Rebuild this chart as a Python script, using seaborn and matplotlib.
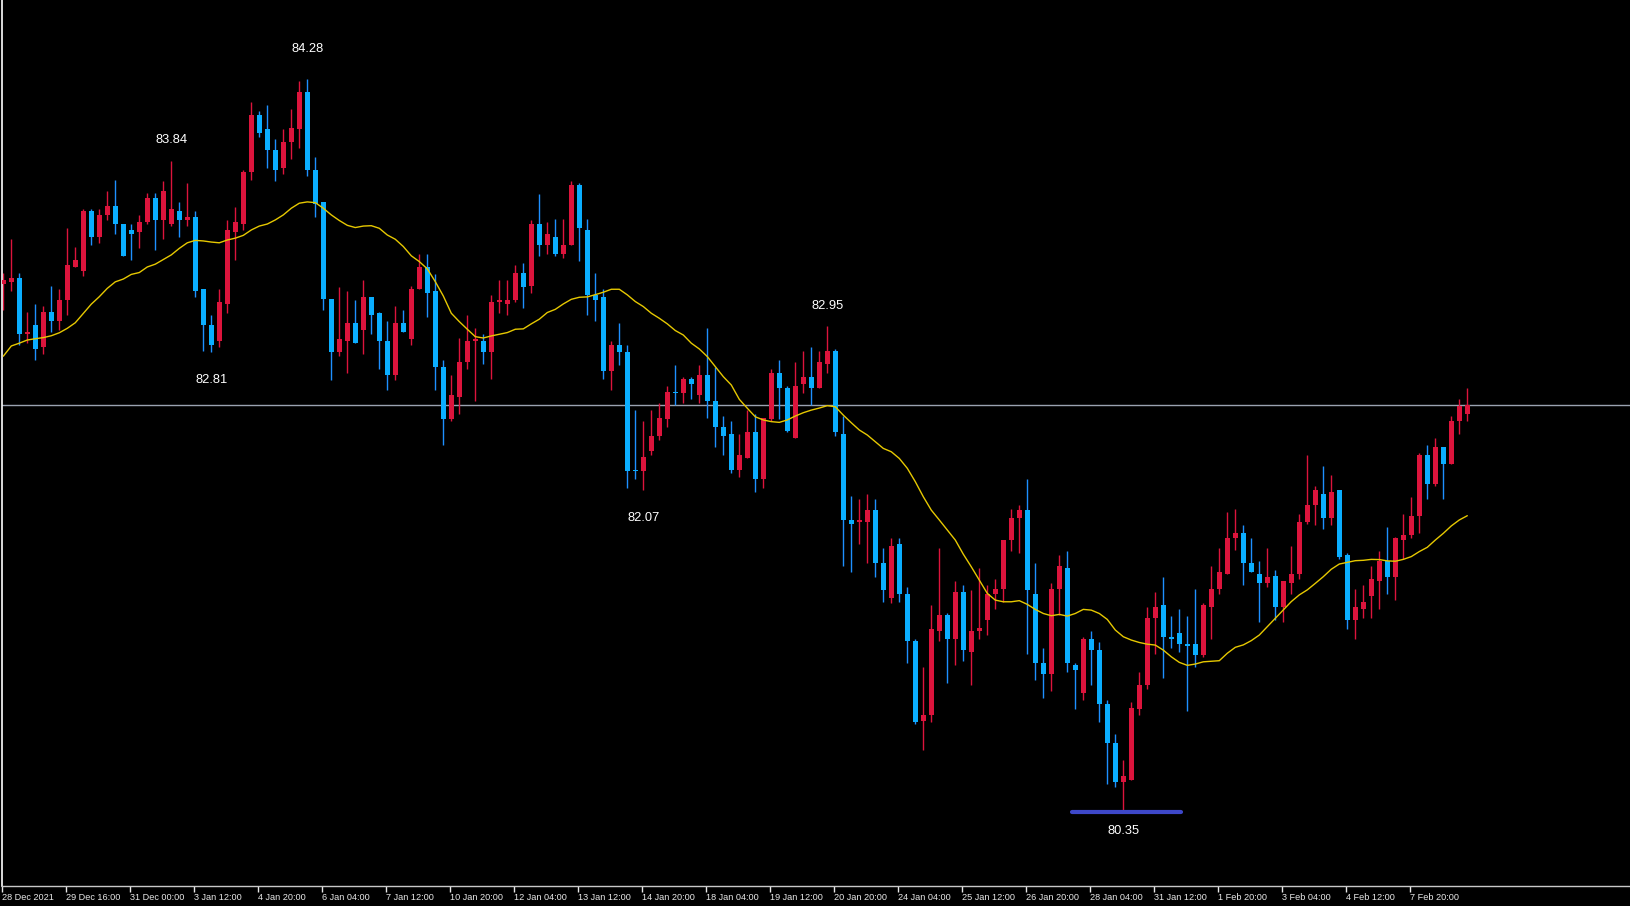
import numpy as np
import pandas as pd
import matplotlib
matplotlib.use("Agg")
import matplotlib.pyplot as plt
import seaborn as sns

# ---------------- data (AUD/JPY-like H4 candles) ----------------
opens = [83.18, 83.19, 83.21, 82.91, 82.96, 82.84, 83.03, 82.98, 83.09, 83.27,
         83.25, 83.57, 83.43, 83.55, 83.60, 83.50, 83.47, 83.46, 83.51, 83.64,
         83.52, 83.50, 83.57, 83.52, 83.54, 83.15, 82.96, 82.87, 83.07, 83.46,
         83.50, 83.78, 84.09, 84.01, 83.90, 83.80, 83.94, 84.01, 84.21, 83.79,
         83.62, 83.10, 82.81, 82.87, 82.97, 82.93, 83.11, 83.02, 82.87, 82.69,
         82.97, 82.88, 83.15, 83.27, 83.14, 82.73, 82.45, 82.57, 82.76, 82.87,
         82.87, 82.81, 83.08, 83.07, 83.09, 83.24, 83.17, 83.50, 83.39, 83.43,
         83.34, 83.39, 83.71, 83.47, 83.12, 83.11, 82.71, 82.85, 82.81, 82.18,
         82.17, 82.28, 82.36, 82.45, 82.60, 82.59, 82.67, 82.58, 82.69, 82.55,
         82.41, 82.37, 82.18, 82.24, 82.38, 82.13, 82.45, 82.70, 82.62, 82.35,
         82.64, 82.68, 82.62, 82.75, 82.82, 82.37, 81.91, 81.90, 81.90, 81.96,
         81.68, 81.49, 81.78, 81.51, 81.26, 80.83, 80.86, 81.31, 81.40, 81.27,
         81.52, 81.20, 81.31, 81.37, 81.51, 81.54, 81.80, 81.92, 81.96, 81.51,
         81.14, 81.08, 81.54, 81.65, 81.13, 80.98, 81.27, 81.21, 80.92, 80.71,
         80.50, 80.51, 80.89, 81.02, 81.38, 81.45, 81.28, 81.30, 81.24, 81.24,
         81.18, 81.44, 81.54, 81.62, 81.81, 81.84, 81.68, 81.62, 81.57, 81.61,
         81.44, 81.57, 81.62, 81.90, 81.99, 82.05, 81.92, 82.07, 81.72, 81.37,
         81.43, 81.50, 81.58, 81.69, 81.60, 81.80, 81.83, 81.93, 82.26, 82.10,
         82.30, 82.21, 82.44, 82.48]

highs = [83.24, 83.42, 83.24, 83.03, 83.07, 83.06, 83.17, 83.15, 83.48, 83.38,
         83.58, 83.58, 83.58, 83.68, 83.74, 83.50, 83.50, 83.55, 83.67, 83.67,
         83.73, 83.84, 83.62, 83.72, 83.57, 83.15, 83.01, 83.15, 83.52, 83.59,
         83.79, 84.16, 84.11, 84.14, 83.96, 84.01, 84.12, 84.27, 84.28, 83.86,
         83.62, 83.10, 83.16, 83.14, 83.09, 83.20, 83.11, 83.03, 82.98, 83.06,
         83.04, 83.17, 83.34, 83.34, 83.23, 82.77, 82.69, 82.89, 83.01, 82.94,
         82.91, 83.12, 83.20, 83.20, 83.28, 83.29, 83.52, 83.66, 83.51, 83.53,
         83.53, 83.73, 83.72, 83.53, 83.24, 83.15, 82.87, 82.97, 82.85, 82.50,
         82.44, 82.50, 82.54, 82.63, 82.74, 82.68, 82.68, 82.74, 82.94, 82.73,
         82.47, 82.44, 82.37, 82.50, 82.48, 82.46, 82.72, 82.77, 82.63, 82.76,
         82.82, 82.84, 82.82, 82.95, 82.83, 82.47, 82.04, 82.02, 82.05, 82.02,
         81.76, 81.81, 81.81, 81.55, 81.27, 81.12, 81.45, 81.76, 81.41, 81.58,
         81.56, 81.53, 81.65, 81.56, 81.59, 81.80, 81.97, 81.99, 82.13, 81.68,
         81.22, 81.57, 81.72, 81.74, 81.14, 81.28, 81.31, 81.25, 80.94, 80.76,
         80.62, 80.93, 81.09, 81.44, 81.52, 81.60, 81.39, 81.43, 81.39, 81.54,
         81.46, 81.66, 81.76, 81.95, 81.97, 81.88, 81.81, 81.69, 81.76, 81.64,
         81.58, 81.77, 81.94, 82.26, 82.09, 82.20, 82.15, 82.07, 81.73, 81.54,
         81.56, 81.66, 81.74, 81.87, 81.82, 81.94, 82.03, 82.27, 82.31, 82.35,
         82.30, 82.47, 82.56, 82.62]

lows = [83.04, 83.14, 82.85, 82.86, 82.77, 82.80, 82.92, 82.93, 83.01, 83.27,
        83.22, 83.39, 83.40, 83.52, 83.45, 83.33, 83.31, 83.37, 83.50, 83.36,
        83.42, 83.49, 83.43, 83.49, 83.11, 82.82, 82.81, 82.84, 83.02, 83.31,
        83.47, 83.74, 83.97, 83.80, 83.73, 83.77, 83.85, 83.91, 83.76, 83.54,
        83.04, 82.66, 82.79, 82.70, 82.86, 82.80, 82.91, 82.72, 82.61, 82.66,
        82.92, 82.85, 83.15, 83.00, 82.61, 82.31, 82.44, 82.48, 82.72, 82.55,
        82.75, 82.67, 83.02, 83.01, 83.08, 83.05, 83.13, 83.33, 83.34, 83.33,
        83.32, 83.39, 83.30, 83.01, 82.98, 82.67, 82.61, 82.74, 82.08, 82.13,
        82.07, 82.26, 82.34, 82.41, 82.53, 82.54, 82.56, 82.54, 82.46, 82.30,
        82.26, 82.16, 82.14, 82.24, 82.06, 82.08, 82.44, 82.45, 82.38, 82.35,
        82.59, 82.53, 82.62, 82.70, 82.36, 81.66, 81.63, 81.78, 81.68, 81.60,
        81.47, 81.46, 81.47, 81.14, 80.81, 80.67, 80.82, 81.26, 81.03, 81.13,
        81.15, 81.02, 81.27, 81.29, 81.43, 81.47, 81.74, 81.73, 81.19, 81.05,
        80.95, 80.99, 81.40, 81.09, 80.89, 80.94, 81.02, 80.82, 80.49, 80.47,
        80.35, 80.51, 80.86, 81.00, 81.19, 81.06, 81.22, 81.20, 80.88, 81.12,
        81.17, 81.27, 81.51, 81.62, 81.75, 81.56, 81.63, 81.36, 81.55, 81.37,
        81.36, 81.51, 81.59, 81.89, 81.88, 81.86, 81.88, 81.70, 81.32, 81.27,
        81.38, 81.38, 81.43, 81.51, 81.48, 81.70, 81.81, 81.84, 82.02, 82.09,
        82.02, 82.21, 82.37, 82.44]

closes = [83.20, 83.21, 82.91, 82.92, 82.83, 83.03, 82.98, 83.09, 83.28, 83.31,
          83.57, 83.43, 83.55, 83.60, 83.50, 83.33, 83.45, 83.51, 83.64, 83.52,
          83.68, 83.58, 83.52, 83.54, 83.14, 82.96, 82.85, 83.08, 83.47, 83.51,
          83.78, 84.09, 83.99, 83.90, 83.79, 83.94, 84.02, 84.21, 83.79, 83.61,
          83.10, 82.81, 82.88, 82.97, 82.86, 83.11, 83.01, 82.87, 82.69, 82.97,
          82.92, 83.15, 83.27, 83.13, 82.73, 82.45, 82.58, 82.76, 82.87, 82.88,
          82.81, 83.08, 83.09, 83.09, 83.24, 83.16, 83.50, 83.39, 83.45, 83.34,
          83.39, 83.71, 83.48, 83.12, 83.09, 82.71, 82.85, 82.81, 82.17, 82.17,
          82.25, 82.36, 82.46, 82.60, 82.59, 82.67, 82.64, 82.69, 82.55, 82.41,
          82.36, 82.18, 82.26, 82.38, 82.13, 82.46, 82.70, 82.62, 82.39, 82.63,
          82.68, 82.62, 82.76, 82.82, 82.38, 81.91, 81.89, 81.91, 81.96, 81.68,
          81.53, 81.77, 81.51, 81.26, 80.82, 80.86, 81.32, 81.40, 81.27, 81.52,
          81.21, 81.31, 81.33, 81.51, 81.54, 81.80, 81.92, 81.96, 81.53, 81.14,
          81.08, 81.54, 81.66, 81.14, 81.10, 81.27, 81.21, 80.92, 80.71, 80.50,
          80.53, 80.90, 81.02, 81.38, 81.44, 81.28, 81.27, 81.24, 81.23, 81.18,
          81.45, 81.54, 81.63, 81.81, 81.84, 81.68, 81.63, 81.57, 81.60, 81.44,
          81.58, 81.62, 81.90, 81.99, 82.07, 81.92, 82.06, 81.71, 81.37, 81.44,
          81.47, 81.59, 81.69, 81.60, 81.81, 81.83, 81.93, 82.26, 82.10, 82.30,
          82.21, 82.44, 82.52, 82.53]

# moving average line
ma_line = [82.790, 82.845, 82.860, 82.877, 82.884, 82.890, 82.900, 82.916, 82.940, 82.970,
           83.020, 83.070, 83.110, 83.155, 83.190, 83.205, 83.230, 83.240, 83.270, 83.285,
           83.310, 83.335, 83.370, 83.400, 83.413, 83.410, 83.404, 83.400, 83.415, 83.425,
           83.440, 83.469, 83.490, 83.501, 83.523, 83.550, 83.586, 83.613, 83.620, 83.616,
           83.586, 83.550, 83.520, 83.494, 83.482, 83.490, 83.492, 83.478, 83.442, 83.419,
           83.380, 83.330, 83.299, 83.260, 83.191, 83.114, 83.021, 82.976, 82.935, 82.895,
           82.888, 82.899, 82.908, 82.917, 82.935, 82.937, 82.964, 82.989, 83.025, 83.042,
           83.071, 83.096, 83.107, 83.109, 83.121, 83.134, 83.150, 83.150, 83.120, 83.084,
           83.057, 83.021, 82.994, 82.964, 82.928, 82.904, 82.860, 82.829, 82.788, 82.734,
           82.680, 82.635, 82.558, 82.510, 82.464, 82.447, 82.438, 82.434, 82.447, 82.468,
           82.486, 82.500, 82.511, 82.524, 82.518, 82.473, 82.432, 82.393, 82.366, 82.330,
           82.294, 82.276, 82.240, 82.187, 82.115, 82.034, 81.962, 81.909, 81.855, 81.801,
           81.725, 81.657, 81.586, 81.514, 81.478, 81.469, 81.469, 81.475, 81.455, 81.428,
           81.406, 81.394, 81.401, 81.392, 81.406, 81.428, 81.424, 81.406, 81.374, 81.317,
           81.281, 81.263, 81.250, 81.241, 81.236, 81.209, 81.173, 81.143, 81.127, 81.134,
           81.146, 81.149, 81.152, 81.192, 81.224, 81.237, 81.260, 81.290, 81.335, 81.380,
           81.425, 81.470, 81.506, 81.533, 81.568, 81.604, 81.644, 81.672, 81.681, 81.690,
           81.692, 81.697, 81.696, 81.689, 81.687, 81.697, 81.712, 81.739, 81.762, 81.801,
           81.837, 81.877, 81.909, 81.932]

tick_labels = ["28 Dec 2021", "29 Dec 16:00", "31 Dec 00:00", "3 Jan 12:00", "4 Jan 20:00",
               "6 Jan 04:00", "7 Jan 12:00", "10 Jan 20:00", "12 Jan 04:00", "13 Jan 12:00",
               "14 Jan 20:00", "18 Jan 04:00", "19 Jan 12:00", "20 Jan 20:00", "24 Jan 04:00",
               "25 Jan 12:00", "26 Jan 20:00", "28 Jan 04:00", "31 Jan 12:00", "1 Feb 20:00",
               "3 Feb 04:00", "4 Feb 12:00", "7 Feb 20:00"]

high_marks = [21, 38, 103]     # bars whose highs are labelled
low_marks = [26, 80, 140]      # bars whose lows are labelled
low_support_bar = 140

# ---------------- styling ----------------
BULL = "#DC143C"
BEAR = "#0AAEFF"
BEAR_WICK = "#1E8FFF"
MA_COLOR = "#E6C800"

sns.set_theme(style="dark")
plt.rcParams["font.family"] = ["Liberation Sans", "DejaVu Sans"]

df = pd.DataFrame({"open": opens, "high": highs, "low": lows, "close": closes, "ma": ma_line})
df["bar"] = np.arange(len(df))
df["bull"] = df["close"] >= df["open"]

W, H = 1631, 906
fig = plt.figure(figsize=(W / 100, H / 100), dpi=100, facecolor="black")
ax = fig.add_axes([2 / W, 20 / H, (W - 2) / W, (H - 20) / H])
ax.set_facecolor("black")

px = 1 / 185.9  # price per pixel
# wicks
ax.vlines(df["bar"], df["low"], df["high"],
          colors=np.where(df["bull"], BULL, BEAR_WICK), linewidth=1.0, zorder=2)
# bodies
body_bottom = np.minimum(df["open"], df["close"])
body_h = np.maximum((df["close"] - df["open"]).abs(), 1.2 * px)
ax.bar(df["bar"], body_h, bottom=body_bottom, width=0.62,
       color=np.where(df["bull"], BULL, BEAR), linewidth=0, zorder=3)

# moving average
sns.lineplot(data=df, x="bar", y="ma", ax=ax, color=MA_COLOR, linewidth=1.0, zorder=4)

# bid line (last close)
ax.axhline(closes[-1], color="#9AA2B0", linewidth=1.0, zorder=1)

# labels at swing highs / lows
for i, off in zip(high_marks, [21, 30, 20]):
    ax.annotate(f"{highs[i]:.2f}", (i, highs[i]), xytext=(0, off), textcoords="offset pixels",
                ha="center", va="center", color="white", fontsize=9.3, zorder=5)
for i, off in zip(low_marks, [-28, -28, -21]):
    ax.annotate(f"{lows[i]:.2f}", (i, lows[i]), xytext=(0, off), textcoords="offset pixels",
                ha="center", va="center", color="white", fontsize=9.3, zorder=5)

# support bar under the lowest low
sup = ax.hlines(lows[low_support_bar] - 2 * px, low_support_bar - 6.45, low_support_bar + 7.2,
                colors="#3D47C9", linewidth=3.0, zorder=5)
sup.set_capstyle("round")

# axes limits: 8 px per bar, first bar centre at x=3.3 px
ax.set_xlim(-0.1625, -0.1625 + (W - 2) / 8)
top = 83.84 + 161 * px
ax.set_ylim(top - (H - 20) * px, top)

ax.set_xticks(np.arange(0, len(df), 8)[:len(tick_labels)] - 0.16)
ax.set_xticklabels(tick_labels)
for lbl in ax.get_xticklabels():
    lbl.set_ha("left")
ax.tick_params(axis="x", colors="#E8E8E8", direction="out", length=4, width=1,
               pad=1, labelsize=6.6, bottom=True)
ax.set_yticks([])
ax.set_xlabel("")
ax.set_ylabel("")
ax.grid(False)

for s in ["top", "right"]:
    ax.spines[s].set_visible(False)
ax.spines["left"].set_color("white")
ax.spines["left"].set_linewidth(1.2)
ax.spines["bottom"].set_color("#C8C8C8")
ax.spines["bottom"].set_linewidth(1.0)

fig.savefig("out.png", dpi=100, facecolor="black")
